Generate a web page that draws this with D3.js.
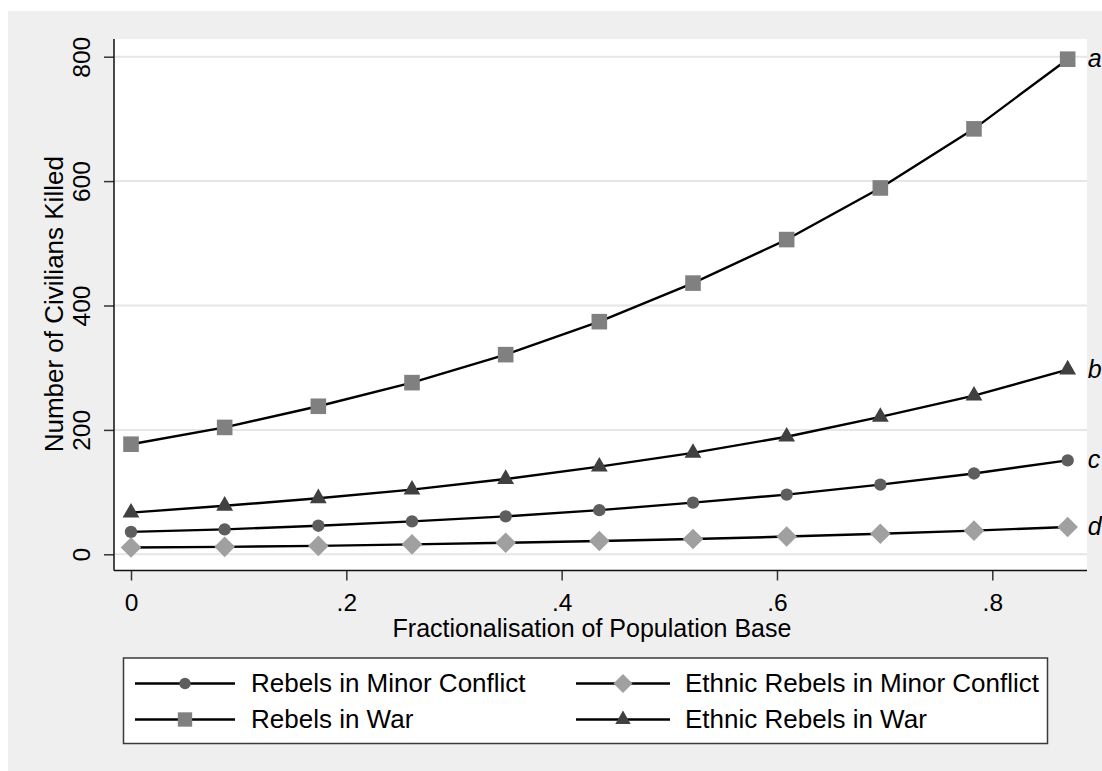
<!DOCTYPE html>
<html>
<head>
<meta charset="utf-8">
<script src="https://cdn.jsdelivr.net/npm/d3@7"></script>
<style>
  html, body { margin: 0; padding: 0; background: #ffffff; }
  svg { display: block; font-family: "Liberation Sans", Arial, sans-serif; }
</style>
</head>
<body>
<svg id="chart" width="1102" height="771"></svg>
<script>
// Predicted civilian deaths across fractionalisation of the population base
const xValues = [0, 0.087, 0.174, 0.261, 0.348, 0.435, 0.522, 0.609, 0.696, 0.783, 0.87];
const rebelsMinor = [36, 40, 46, 53, 61, 71, 83, 96, 112, 130, 151];
const ethnicMinor = [11, 12, 13.5, 16, 18.5, 21.5, 24.5, 28.5, 33, 38, 44];
const rebelsWar = [177, 204, 238, 276, 321, 374, 436, 506, 589, 684, 796];
const ethnicWar = [67, 78, 90, 104, 121, 141, 163, 189, 221, 255, 297];

const seriesNames = ["Rebels in Minor Conflict", "Ethnic Rebels in Minor Conflict", "Rebels in War", "Ethnic Rebels in War"];
const endLabels = ["c", "d", "a", "b"];
const yTicks = [0, 200, 400, 600, 800];
const xTicks = [0, 0.2, 0.4, 0.6, 0.8];
const xTitle = "Fractionalisation of Population Base";
const yTitle = "Number of Civilians Killed";

const series = [
  { name: seriesNames[0], values: rebelsMinor, shape: "circle", fill: "#5e5e5e", label: endLabels[0] },
  { name: seriesNames[1], values: ethnicMinor, shape: "diamond", fill: "#a0a0a0", label: endLabels[1] },
  { name: seriesNames[2], values: rebelsWar, shape: "square", fill: "#808080", label: endLabels[2] },
  { name: seriesNames[3], values: ethnicWar, shape: "triangle", fill: "#404040", label: endLabels[3] }
];

const svg = d3.select("#chart");
const W = 1102, H = 771;

// plot region
const plot = { left: 114, right: 1087, top: 39, bottom: 570.5 };

const x = d3.scaleLinear().domain([0, 0.8]).range([131, 992.3]);
const y = d3.scaleLinear().domain([0, 800]).range([554.3, 56.7]);

// outer graph background
svg.append("rect").attr("x", 0).attr("y", 0).attr("width", W).attr("height", H).attr("fill", "#ffffff");
svg.append("rect").attr("x", 8).attr("y", 11).attr("width", W - 8).attr("height", H - 11).attr("fill", "#efefef");
svg.append("rect")
  .attr("x", plot.left).attr("y", plot.top)
  .attr("width", plot.right - plot.left).attr("height", plot.bottom - plot.top)
  .attr("fill", "#ffffff");

// horizontal grid lines
svg.append("g").selectAll("line").data(yTicks).join("line")
  .attr("x1", plot.left).attr("x2", plot.right)
  .attr("y1", d => y(d)).attr("y2", d => y(d))
  .attr("stroke", "#e6e6e6").attr("stroke-width", 2);

// y axis
const yAxis = d3.axisLeft(y).tickValues(yTicks).tickSize(10).tickPadding(14).tickFormat(d3.format("d"));
const gy = svg.append("g").attr("transform", `translate(${plot.left},0)`).call(yAxis);
gy.select(".domain").remove();
gy.selectAll(".tick line").attr("stroke", "#333").attr("stroke-width", 1.5);
gy.selectAll(".tick text")
  .attr("font-size", 24.5).attr("fill", "#000")
  .attr("font-family", "Liberation Sans, Arial, sans-serif")
  .attr("text-anchor", "middle")
  .attr("x", null).attr("dy", null)
  .attr("transform", "translate(-24,0) rotate(-90)");
svg.append("line")
  .attr("x1", plot.left).attr("x2", plot.left)
  .attr("y1", plot.top).attr("y2", plot.bottom)
  .attr("stroke", "#111").attr("stroke-width", 1.5);

// x axis
const xAxis = d3.axisBottom(x).tickValues(xTicks).tickSize(10).tickPadding(14)
  .tickFormat(d => d === 0 ? "0" : d3.format(".1f")(d).replace(/^0/, ""));
const gx = svg.append("g").attr("transform", `translate(0,${plot.bottom})`).call(xAxis);
gx.select(".domain").remove();
gx.selectAll(".tick line").attr("stroke", "#333").attr("stroke-width", 1.5);
gx.selectAll(".tick text")
  .attr("font-size", 24.5).attr("fill", "#000")
  .attr("font-family", "Liberation Sans, Arial, sans-serif")
  .attr("dy", null).attr("y", 40);
svg.append("line")
  .attr("x1", plot.left).attr("x2", plot.right)
  .attr("y1", plot.bottom).attr("y2", plot.bottom)
  .attr("stroke", "#111").attr("stroke-width", 1.5);

// axis titles
svg.append("text")
  .attr("x", 592).attr("y", 637)
  .attr("text-anchor", "middle").attr("font-size", 25).attr("fill", "#000")
  .text(xTitle);
svg.append("text")
  .attr("transform", `translate(63,${(plot.top + plot.bottom) / 2 - 0.5}) rotate(-90)`)
  .attr("text-anchor", "middle").attr("font-size", 26).attr("fill", "#000")
  .text(yTitle);

// marker shapes
function markerPath(shape, s) {
  const p = d3.path();
  if (shape === "circle") {
    const r = 6.2 * s;
    p.moveTo(r, 0); p.arc(0, 0, r, 0, 2 * Math.PI);
  } else if (shape === "square") {
    const h = 7.8 * s;
    p.rect(-h, -h, 2 * h, 2 * h);
  } else if (shape === "diamond") {
    const h = 10.3 * s;
    p.moveTo(0, -h); p.lineTo(h, 0); p.lineTo(0, h); p.lineTo(-h, 0); p.closePath();
  } else if (shape === "triangle") {
    const side = 16.8 * s, ht = side * Math.sqrt(3) / 2;
    p.moveTo(0, -ht * 2 / 3); p.lineTo(side / 2, ht / 3); p.lineTo(-side / 2, ht / 3); p.closePath();
  }
  return p.toString();
}

const line = d3.line().x(d => x(d[0])).y(d => y(d[1])).curve(d3.curveLinear);

series.forEach(s => {
  const pts = xValues.map((xv, i) => [xv, s.values[i]]);
  const g = svg.append("g");
  g.append("path").datum(pts)
    .attr("d", line)
    .attr("fill", "none").attr("stroke", "#000").attr("stroke-width", 2.4)
    .attr("stroke-linejoin", "round");
  g.selectAll("path.marker").data(pts).join("path")
    .attr("class", "marker")
    .attr("transform", d => `translate(${x(d[0])},${y(d[1])})`)
    .attr("d", markerPath(s.shape, 1))
    .attr("fill", s.fill);
  const last = pts[pts.length - 1];
  svg.append("text")
    .attr("x", x(last[0]) + 20).attr("y", y(last[1]))
    .attr("dy", "0.32em")
    .attr("font-size", 25).attr("font-style", "italic").attr("fill", "#000")
    .text(s.label);
});

// legend
const legend = svg.append("g");
legend.append("rect")
  .attr("x", 123.5).attr("y", 658).attr("width", 924).attr("height", 85.5)
  .attr("fill", "#ffffff").attr("stroke", "#3a3a3a").attr("stroke-width", 1.5);
const legendCols = [{ x0: 135, x1: 235, tx: 251 }, { x0: 576, x1: 670, tx: 685 }];
const legendRows = [683.5, 719.5];
series.forEach((s, i) => {
  const col = legendCols[i % 2], row = legendRows[Math.floor(i / 2)];
  legend.append("line")
    .attr("x1", col.x0).attr("x2", col.x1).attr("y1", row).attr("y2", row)
    .attr("stroke", "#000").attr("stroke-width", 2.4);
  legend.append("path")
    .attr("transform", `translate(${(col.x0 + col.x1) / 2},${row})`)
    .attr("d", markerPath(s.shape, 0.92))
    .attr("fill", s.fill);
  legend.append("text")
    .attr("x", col.tx).attr("y", row + 8.5)
    .attr("font-size", 26).attr("fill", "#000")
    .text(s.name);
});
</script>
</body>
</html>
